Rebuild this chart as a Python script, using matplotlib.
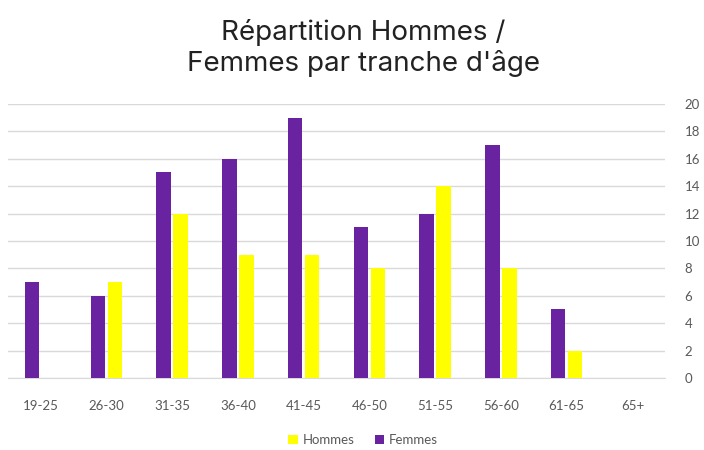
import numpy as np
import matplotlib.pyplot as plt

categories = ['19-25', '26-30', '31-35', '36-40', '41-45', '46-50', '51-55', '56-60', '61-65', '65+']
femmes = [7, 6, 15, 16, 19, 11, 12, 17, 5, 0]
hommes = [0, 7, 12, 9, 9, 8, 14, 8, 2, 0]

purple = '#6A23A0'
yellow = '#FFFF00'

plt.rcParams['font.family'] = ['Lato', 'DejaVu Sans']

fig = plt.figure(figsize=(7.04, 4.5), dpi=100)
ax = fig.add_axes([0.011, 0.16, 0.934, 0.609])

x = np.arange(len(categories))
w = 0.22
ax.bar(x - 0.13, femmes, width=w, color=purple, label='Femmes', zorder=3)
ax.bar(x + 0.13, hommes, width=w, color=yellow, label='Hommes', zorder=3)

ax.set_xlim(-0.5, len(categories) - 0.5)
ax.set_ylim(0, 20)
ax.set_yticks(np.arange(0, 21, 2))
ax.set_xticks(x)
ax.set_xticklabels(categories)
ax.yaxis.tick_right()
ax.tick_params(axis='both', length=0, labelsize=9.5, colors='#595959')
ax.tick_params(axis='y', pad=14)
ax.tick_params(axis='x', pad=16)
ax.grid(axis='y', color='#d9d9d9', linewidth=1, zorder=0)
for s in ['top', 'left', 'right']:
    ax.spines[s].set_visible(False)
ax.spines['bottom'].set_color('#d9d9d9')

fig.text(0.516, 0.893, "Répartition Hommes /\nFemmes par tranche d'âge", ha='center', va='center',
         fontsize=20, color='#222222', linespacing=1.2, family=['Inter', 'DejaVu Sans'])

handles, labels = ax.get_legend_handles_labels()
fig.legend(handles[::-1], labels[::-1], loc='center', bbox_to_anchor=(0.516, 0.022), ncol=2,
           frameon=False, fontsize=9.5, handlelength=0.7, handleheight=0.7, columnspacing=1.5,
           handletextpad=0.4, labelcolor='#595959')

fig.savefig('out.png', dpi=100)
